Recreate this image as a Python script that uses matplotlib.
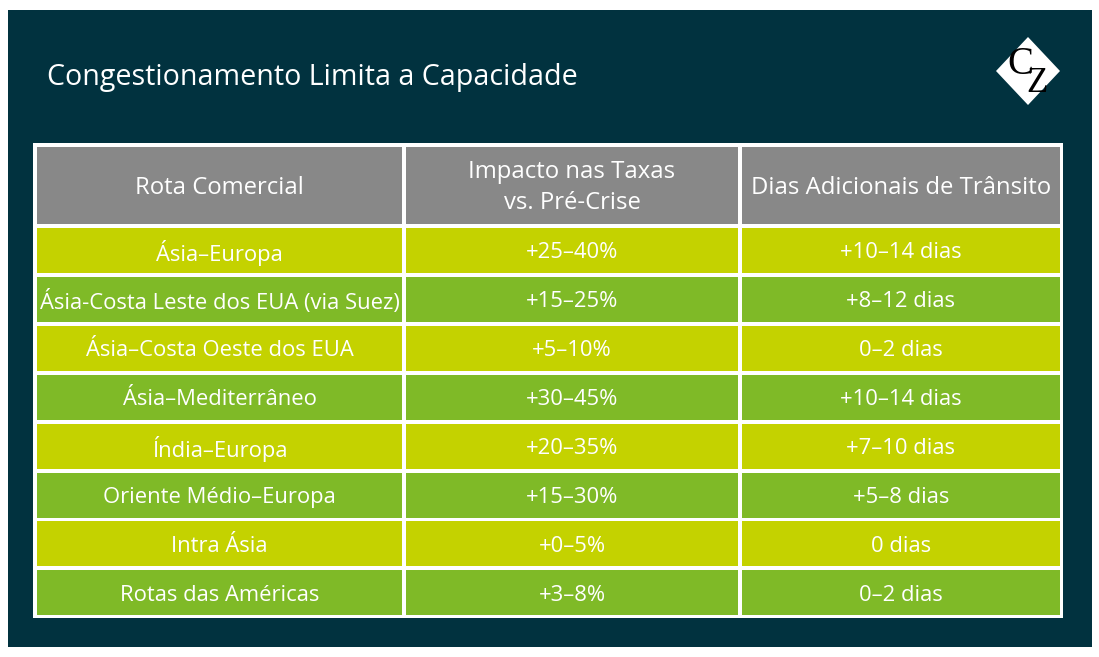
import matplotlib.pyplot as plt
from matplotlib.patches import Rectangle, Polygon

# table content
title = 'Congestionamento Limita a Capacidade'
headers = ['Rota Comercial', 'Impacto nas Taxas\nvs. Pré-Crise', 'Dias Adicionais de Trânsito']
routes = ['Ásia–Europa', 'Ásia-Costa Leste dos EUA (via Suez)', 'Ásia–Costa Oeste dos EUA',
          'Ásia–Mediterrâneo', 'Índia–Europa', 'Oriente Médio–Europa', 'Intra Ásia',
          'Rotas das Américas']
rate_impact = ['+25–40%', '+15–25%', '+5–10%', '+30–45%', '+20–35%', '+15–30%', '+0–5%', '+3–8%']
extra_days = ['+10–14 dias', '+8–12 dias', '0–2 dias', '+10–14 dias', '+7–10 dias',
              '+5–8 dias', '0 dias', '0–2 dias']

BG = '#01323f'
GRAY = '#888888'
ROW_COLORS = ['#c4d200', '#7fba27']

plt.rcParams['font.family'] = ['Open Sans', 'DejaVu Sans']

W, H = 1099, 657
fig = plt.figure(figsize=(W / 100, H / 100), dpi=100)
ax = fig.add_axes([0, 0, 1, 1])
ax.set_xlim(0, W)
ax.set_ylim(H, 0)
ax.axis('off')

# background panel
ax.add_patch(Rectangle((8, 10), 1084, 637, color=BG, lw=0))
ax.text(47, 78, title, color='white', fontsize=20.6, va='center', ha='left')

# logo
cx, cy = 1028, 71
ax.add_patch(Polygon([(cx - 32, cy), (cx, cy - 34), (cx + 32, cy), (cx, cy + 34)],
                     closed=True, color='white', lw=0))
ax.text(cx - 8, cy - 7, 'C', family='Liberation Serif', fontsize=28, color='black',
        ha='center', va='center')
ax.text(cx + 9, cy + 12, 'Z', family='Liberation Serif', fontsize=25, color='black',
        ha='center', va='center')

# table frame
ax.add_patch(Rectangle((33, 143), 1030, 475, color='white', lw=0))

col_x = [(37, 402), (406, 738), (742, 1060)]
header_top, header_bot = 147, 224
row_top0, row_h, row_pitch = 228, 45, 48.9

for (x0, x1), h in zip(col_x, headers):
    ax.add_patch(Rectangle((x0, header_top), x1 - x0, header_bot - header_top,
                           color=GRAY, lw=0))
    ax.text((x0 + x1) / 2, (header_top + header_bot) / 2 + 2, h, color='white',
            fontsize=17.2, ha='center', va='center', linespacing=1.35)

for i, row in enumerate(zip(routes, rate_impact, extra_days)):
    top = row_top0 + i * row_pitch
    color = ROW_COLORS[i % 2]
    for (x0, x1), val in zip(col_x, row):
        ax.add_patch(Rectangle((x0, top), x1 - x0, row_h, color=color, lw=0))
        ax.text((x0 + x1) / 2, top + row_h / 2 + 2.5, val, color='white',
                fontsize=15.8, ha='center', va='center')

fig.savefig('out.png', dpi=100, facecolor='white')
